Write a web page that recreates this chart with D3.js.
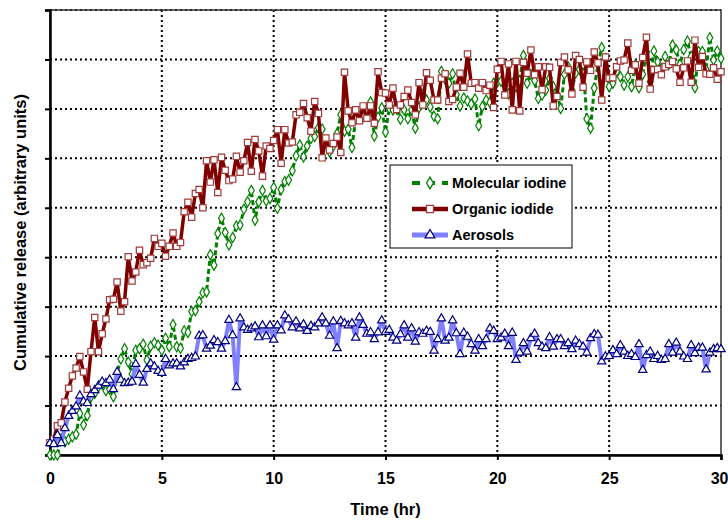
<!DOCTYPE html>
<html>
<head>
<meta charset="utf-8">
<script src="https://cdn.jsdelivr.net/npm/d3@7"></script>
<style>
  body { margin: 0; background: #fff; }
  text { font-family: "Liberation Sans", Arial, sans-serif; font-weight: bold; }
</style>
</head>
<body>
<div id="chart"></div>
<script>
// sampling interval of the record (hr)
const sampleStep = 1 / 6

const seriesNames = ['Molecular iodine', 'Organic iodide', 'Aerosols']

const xTicks = [0, 5, 10, 15, 20, 25, 30]
const yTicks = [0, 1, 2, 3, 4, 5, 6, 7, 8, 9]

const molecular = [
  0, 0, 0, 0.33, 0.27, 0.32, 0.37, 0.42, 0.84, 0.61,
  0.8, 1.18, 1.25, 1.38, 1.43, 1.3, 1.33, 1.18, 1.66, 1.94,
  2.15, 1.88, 1.64, 2.12, 2.15, 2.24, 1.92, 2.2, 2.27, 2.22,
  2.12, 2.36, 2.19, 2.64, 2.19, 2.16, 2.51, 2.48, 2.9, 2.92,
  3.1, 3.28, 3.3, 4.05, 3.84, 4.48, 4.79, 4.5, 4.25, 4.4,
  4.63, 4.65, 4.97, 5.12, 5.35, 4.75, 5.12, 5.35, 5.14, 5.19,
  5.41, 4.99, 5.37, 5.53, 5.56, 5.75, 6.05, 6.27, 6.03, 6.25,
  6.4, 6.44, 6.62, 6.59, 6.31, 6.13, 6.25, 6.5, 6.88, 6.55,
  6.59, 6.22, 6.8, 6.85, 6.84, 6.92, 7.14, 6.45, 6.83, 7.02,
  6.53, 7.01, 6.98, 7.0, 6.79, 6.98, 6.8, 6.98, 6.61, 7.03,
  7.29, 7.18, 7.04, 6.85, 6.8, 7.76, 7.6, 7.52, 7.71, 7.29,
  7.06, 7.22, 7.16, 7.1, 7.2, 6.66, 7.05, 7.18, 7.13, 7.52,
  7.55, 7.56, 7.47, 7.3, 7.52, 7.45, 7.57, 8.08, 7.52, 7.7,
  7.57, 7.21, 7.28, 7.38, 7.62, 7.45, 7.3, 7.01, 7.7, 7.85,
  7.38, 7.72, 7.8, 7.9, 6.8, 6.61, 7.42, 7.9, 8.24, 8.02,
  7.45, 7.52, 7.75, 7.65, 7.48, 7.65, 7.45, 7.89, 7.43, 7.7,
  8.15, 7.55, 8.17, 7.95, 7.81, 8.06, 7.9, 8.29, 8.19, 7.9,
  8.2, 8.37, 8.06, 7.43, 8.16, 8.16, 7.8, 8.44, 7.99, 8.17,
  8.02
]

const organic = [
  0.25, 0.32, 0.59, 0.65, 1.07, 1.35, 1.6, 1.76, 1.99, 1.68,
  1.33, 2.09, 2.78, 2.09, 2.45, 2.75, 3.14, 3.15, 3.5, 2.91,
  3.1, 4.01, 3.52, 3.7, 4.14, 3.85, 3.89, 3.98, 4.38, 4.22,
  4.28, 4.02, 4.22, 4.49, 4.22, 4.3, 4.92, 5.11, 4.81, 5.29,
  5.37, 5.0, 5.95, 5.52, 5.97, 5.31, 6.02, 5.76, 5.55, 5.58,
  6.04, 5.72, 5.95, 6.32, 5.74, 6.38, 6.15, 5.64, 6.25, 6.2,
  6.36, 6.58, 5.9, 6.58, 6.31, 6.33, 6.88, 6.93, 7.11, 6.82,
  6.55, 7.15, 6.91, 6.01, 6.41, 6.17, 6.3, 6.43, 6.12, 7.74,
  6.96, 6.72, 6.98, 6.76, 7.06, 6.81, 7.06, 6.71, 7.75, 7.33,
  7.32, 7.08, 7.42, 6.99, 7.08, 7.25, 7.38, 7.13, 6.88, 7.53,
  7.08, 7.73, 7.58, 7.18, 7.18, 7.62, 7.71, 7.15, 7.19, 7.44,
  7.72, 7.44, 8.11, 7.52, 7.53, 7.42, 7.53, 7.37, 7.48, 7.03,
  7.8, 7.96, 7.28, 7.91, 6.98, 7.96, 6.96, 7.94, 7.72, 8.19,
  7.69, 7.85, 7.39, 7.85, 7.84, 7.06, 7.25, 7.94, 8.05, 7.79,
  7.3, 8.08, 8.0, 7.44, 7.95, 7.78, 8.15, 7.93, 7.18, 8.05,
  7.62, 7.63, 7.85, 7.97, 7.99, 8.33, 7.78, 7.89, 7.52, 8.04,
  8.45, 7.4, 7.79, 7.8, 7.69, 7.85, 7.9, 7.96, 7.81, 7.54,
  7.83, 7.97, 7.54, 8.39, 7.84, 8.06, 7.71, 7.7, 7.83, 7.6,
  7.75
]

const aerosols = [
  0.24, 0.22, 0.4, 0.24, 0.54, 0.79, 0.89, 0.98, 1.2, 1.08,
  1.05, 1.23, 1.31, 1.4, 1.48, 1.45, 1.52, 1.33, 1.68, 1.52,
  1.45, 1.46, 1.48, 1.84, 1.62, 1.46, 1.74, 1.85, 1.79, 1.7,
  1.66, 1.94, 1.81, 1.85, 1.85, 1.79, 1.87, 1.94, 1.96, 1.99,
  2.41, 2.42, 2.15, 2.21, 2.32, 2.28, 2.15, 2.3, 2.73, 2.42,
  1.37, 2.76, 2.58, 2.53, 2.56, 2.6, 2.38, 2.62, 2.4, 2.62,
  2.33, 2.62, 2.52, 2.82, 2.74, 2.58, 2.7, 2.56, 2.64, 2.51,
  2.61, 2.58, 2.66, 2.78, 2.66, 2.41, 2.7, 2.16, 2.71, 2.66,
  2.62, 2.66, 2.37, 2.78, 2.63, 2.45, 2.48, 2.34, 2.48, 2.72,
  2.49, 2.53, 2.37, 2.31, 2.44, 2.62, 2.37, 2.56, 2.29, 2.48,
  2.45, 2.51, 2.49, 2.11, 2.34, 2.76, 2.31, 2.37, 2.72, 2.46,
  2.04, 2.47, 2.39, 2.24, 2.11, 2.34, 2.2, 2.34, 2.56, 2.51,
  2.34, 2.37, 2.45, 2.2, 2.47, 1.92, 2.07, 2.26, 2.09, 2.36,
  2.45, 2.26, 2.19, 2.16, 2.38, 2.19, 2.34, 2.34, 2.2, 2.26,
  2.14, 2.31, 2.24, 2.19, 2.07, 2.36, 2.44, 2.43, 1.89, 1.99,
  2.0, 2.12, 2.04, 2.22, 2.09, 2.0, 2.04, 1.98, 2.24, 1.72,
  2.02, 2.09, 1.94, 2.0, 1.92, 1.94, 2.24, 2.07, 2.27, 2.09,
  1.99, 1.94, 2.22, 2.06, 2.17, 2.17, 1.73, 2.07, 2.14, 2.16,
  2.14
]

const width = 728
const height = 520
const margin = { top: 10, right: 7, bottom: 65, left: 50 }
const plotW = width - margin.left - margin.right
const plotH = height - margin.top - margin.bottom

const svg = d3.select('#chart').append('svg')
  .attr('width', width)
  .attr('height', height)

const x = d3.scaleLinear().domain([0, 30]).range([0, plotW])
const y = d3.scaleLinear().domain([0, 9]).range([plotH, 0])

const g = svg.append('g')
  .attr('transform', 'translate(' + margin.left + ',' + margin.top + ')')

// dotted grid
g.append('g')
  .selectAll('line')
  .data(yTicks.slice(1))
  .enter().append('line')
  .attr('x1', 0).attr('x2', plotW)
  .attr('y1', d => y(d)).attr('y2', d => y(d))
  .attr('stroke', '#000').attr('stroke-width', 2)
  .attr('stroke-dasharray', '2,3')

g.append('g')
  .selectAll('line')
  .data(xTicks.slice(1, -1))
  .enter().append('line')
  .attr('y1', 0).attr('y2', plotH)
  .attr('x1', d => x(d)).attr('x2', d => x(d))
  .attr('stroke', '#000').attr('stroke-width', 2)
  .attr('stroke-dasharray', '2,3')

// plot frame
g.append('rect')
  .attr('width', plotW).attr('height', plotH)
  .attr('fill', 'none').attr('stroke', '#333').attr('stroke-width', 1.5)

// axes
const xAxis = d3.axisBottom(x).tickValues(xTicks).tickSize(5).tickPadding(13)
const yAxis = d3.axisLeft(y).tickValues(yTicks).tickSize(5).tickFormat('')

const gx = g.append('g')
  .attr('transform', 'translate(0,' + plotH + ')')
  .call(xAxis)
gx.select('.domain').attr('stroke-width', 2.5)
gx.selectAll('.tick line').attr('stroke-width', 2)
gx.selectAll('text').style('font-size', '16px').attr('fill', '#000')
// keep the last label inside the page
gx.selectAll('.tick text').filter(d => d === 30)
  .attr('text-anchor', 'end').attr('x', 7)

const gy = g.append('g').call(yAxis)
gy.select('.domain').attr('stroke-width', 2.5)
gy.selectAll('.tick line').attr('stroke-width', 2)

// axis titles
svg.append('text')
  .attr('x', margin.left + plotW / 2)
  .attr('y', 515)
  .attr('text-anchor', 'middle')
  .style('font-size', '16.5px')
  .text('Time (hr)')

svg.append('text')
  .attr('transform', 'translate(26,' + (margin.top + plotH / 2) + ') rotate(-90)')
  .attr('text-anchor', 'middle')
  .style('font-size', '16.5px')
  .text('Cumulative release (arbitrary units)')

const series = [
  { name: seriesNames[0], values: molecular, line: '#008000', lineWidth: 3, dash: '5,3', marker: d3.symbolDiamond, markerSize: 30, markerStroke: '#008000' },
  { name: seriesNames[1], values: organic, line: '#800000', lineWidth: 3.5, dash: null, marker: d3.symbolSquare, markerSize: 40, markerStroke: '#a03a3a' },
  { name: seriesNames[2], values: aerosols, line: '#8080ff', lineWidth: 4, dash: null, marker: d3.symbolTriangle, markerSize: 30, markerStroke: '#000080' }
]

const line = d3.line()
  .x((d, i) => x(i * sampleStep))
  .y(d => y(d))

series.forEach(function (s) {
  const sg = g.append('g')
  sg.append('path')
    .datum(s.values)
    .attr('d', line)
    .attr('fill', 'none')
    .attr('stroke', s.line)
    .attr('stroke-width', s.lineWidth)
    .attr('stroke-linejoin', 'round')
    .attr('stroke-dasharray', s.dash)
  sg.selectAll('path.m')
    .data(s.values)
    .enter().append('path')
    .attr('class', 'm')
    .attr('d', d3.symbol().type(s.marker).size(s.markerSize))
    .attr('transform', (d, i) => 'translate(' + x(i * sampleStep) + ',' + y(d) + ')')
    .attr('fill', '#fff')
    .attr('stroke', s.markerStroke)
    .attr('stroke-width', 1.2)
})

// legend
const legend = svg.append('g').attr('transform', 'translate(390,165)')
legend.append('rect')
  .attr('width', 182).attr('height', 83)
  .attr('fill', '#fff').attr('stroke', '#000').attr('stroke-width', 1)

const legendItem = legend.selectAll('.item')
  .data(series)
  .enter().append('g')
  .attr('class', 'item')
  .attr('transform', (d, i) => 'translate(0,' + (18 + i * 26) + ')')

legendItem.append('line')
  .attr('x1', 22).attr('x2', 58)
  .attr('stroke', d => d.line)
  .attr('stroke-width', d => d.lineWidth + 1)
  .attr('stroke-dasharray', d => d.dash ? '8,7' : null)

legendItem.append('path')
  .attr('d', d => d3.symbol().type(d.marker).size(d.markerSize + 10)())
  .attr('transform', 'translate(40,0)')
  .attr('fill', '#fff')
  .attr('stroke', d => d.markerStroke)
  .attr('stroke-width', 1.3)

legendItem.append('text')
  .attr('x', 62)
  .attr('dy', '0.35em')
  .style('font-size', '14.5px')
  .text(d => d.name)
</script>
</body>
</html>
